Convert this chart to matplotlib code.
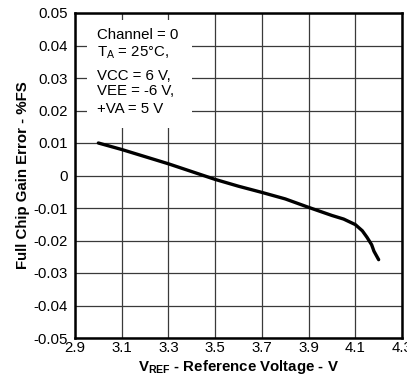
import matplotlib
matplotlib.use("Agg")
import matplotlib.pyplot as plt
from matplotlib.patches import Rectangle

plt.rcParams['font.family'] = ['Liberation Sans', 'DejaVu Sans']
plt.rcParams['mathtext.fontset'] = 'custom'
plt.rcParams['mathtext.rm'] = 'Liberation Sans'
plt.rcParams['mathtext.it'] = 'Liberation Sans:italic'
plt.rcParams['mathtext.bf'] = 'Liberation Sans:bold'

vref = [3.0, 3.1, 3.2, 3.3, 3.4, 3.5, 3.6, 3.7, 3.8, 3.9, 4.0, 4.05, 4.1, 4.13, 4.15, 4.17, 4.18, 4.2]
gain_err = [0.010, 0.0080, 0.0058, 0.0036, 0.0012, -0.0012, -0.0033, -0.0052, -0.0072, -0.0098,
            -0.0123, -0.0134, -0.0151, -0.0170, -0.0190, -0.0213, -0.0233, -0.0259]
xticks = [2.9, 3.1, 3.3, 3.5, 3.7, 3.9, 4.1, 4.3]
yticks = [-0.05, -0.04, -0.03, -0.02, -0.01, 0, 0.01, 0.02, 0.03, 0.04, 0.05]
ytick_labels = ['-0.05', '-0.04', '-0.03', '-0.02', '-0.01', '0', '0.01', '0.02', '0.03', '0.04', '0.05']
annot_lines = ['Channel = 0', r'T$_\mathregular{A}$ = 25°C,', 'VCC = 6 V,', 'VEE = -6 V,', '+VA = 5 V']

FS = 10.8
fig = plt.figure(figsize=(4.07, 3.81), dpi=100)
ax = fig.add_axes([75/407, 43/381, 327/407, 325/381])

ax.plot(vref, gain_err, color='black', lw=2.4, solid_capstyle='round', zorder=4)

ax.set_xlim(2.9, 4.3)
ax.set_ylim(-0.05, 0.05)
ax.set_xticks(xticks)
ax.set_xticklabels([f'{t:.1f}' for t in xticks])
ax.set_yticks(yticks)
ax.set_yticklabels(ytick_labels)
ax.grid(True, color='#3a3a3a', lw=0.9, zorder=1)
ax.set_axisbelow(True)
ax.tick_params(length=0, labelsize=FS, colors='black')
ax.tick_params(axis='y', pad=5)
ax.tick_params(axis='x', pad=2)
for s in ax.spines.values():
    s.set_linewidth(1.8)
    s.set_color('black')
    s.set_zorder(5)

ax.add_patch(Rectangle((0.037, 0.646), 0.321, 0.332, transform=ax.transAxes,
                       facecolor='white', edgecolor='none', zorder=2))
baselines_px = [39, 57, 80, 95, 113]
for line, b in zip(annot_lines, baselines_px):
    yf = 1 - (b - 13) / 325
    ax.text(0.066, yf, line, transform=ax.transAxes, fontsize=FS, va='baseline', ha='left', zorder=3)

ax.set_xlabel(r'$\mathbf{V_{REF}}$ - Reference Voltage - V', fontsize=FS, fontweight='bold', labelpad=2)
ax.set_ylabel('Full Chip Gain Error - %FS', fontsize=FS, fontweight='bold', labelpad=3)

fig.savefig('out.png', dpi=100)
